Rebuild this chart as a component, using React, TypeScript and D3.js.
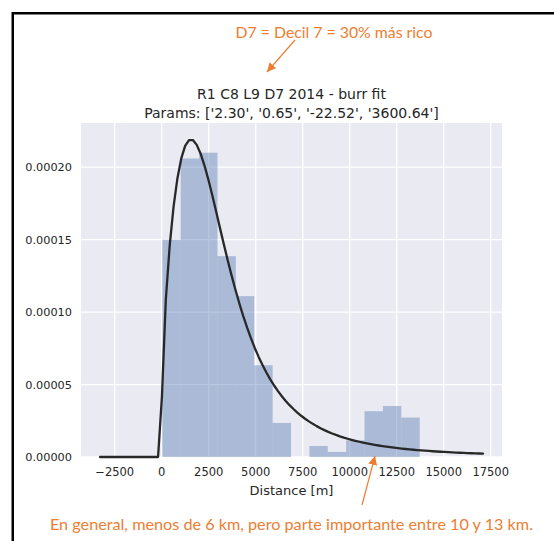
import React from 'react';
import * as d3 from 'd3';

// Histogram (density)
const binEdges = [32, 1010, 1988, 2966, 3944, 4922, 5900, 6878, 7856, 8834, 9812, 10790, 11768, 12746, 13724];
const binDensity = [0.000150, 0.000206, 0.000210, 0.0001386, 0.000111, 0.0000633, 0.0000235, 0, 0.0000076, 0.0000035, 0.0000115, 0.0000316, 0.0000352, 0.0000272];

// Burr fit parameters (from the title): c, d, loc, scale
const burrParams = [2.30, 0.65, -22.52, 3600.64];
const curveRange = [-3280, 17090];
const curveSamples = 100;

const xTicks = [-2500, 0, 2500, 5000, 7500, 10000, 12500, 15000, 17500];
const xTickLabels = ['\u22122500', '0', '2500', '5000', '7500', '10000', '12500', '15000', '17500'];
const yTicks = [0, 0.00005, 0.0001, 0.00015, 0.0002];
const yTickLabels = ['0.00000', '0.00005', '0.00010', '0.00015', '0.00020'];

const titleLines = ['R1 C8 L9 D7 2014 - burr fit', "Params: ['2.30', '0.65', '-22.52', '3600.64']"];
const xLabel = 'Distance [m]';
const topNote = 'D7 = Decil 7 = 30% más rico';
const bottomNote = 'En general, menos de 6 km, pero parte importante entre 10 y 13 km.';

function burrPdf(t: number): number {
  const [c, d, loc, scale] = burrParams;
  const x = (t - loc) / scale;
  if (x <= 0) return 0;
  const lf = Math.log(c * d) + (-c - 1) * Math.log(x) - (d + 1) * Math.log(1 + Math.pow(x, -c));
  return Math.exp(lf) / scale;
}

export default function App() {
  const W = 554, H = 541;
  const left = 81, right = 502, top = 123, bottom = 457;
  const x = d3.scaleLinear().domain([-4293, 18101]).range([left, right]);
  const y = d3.scaleLinear().domain([0, 0.0002305]).range([bottom, top]);

  const grid = d3.range(curveSamples).map(i => curveRange[0] + (curveRange[1] - curveRange[0]) * i / (curveSamples - 1));
  const line = d3.line<number>().x(t => x(t)).y(t => y(burrPdf(t)));
  const curvePath = line(grid) || '';

  const textCol = '#262626';
  const orange = '#ED7D31';
  const font = 'DejaVu Sans, sans-serif';
  const cx = (left + right) / 2;

  return (
    <svg width={W} height={H} style={{ position: 'absolute', left: 0, top: 0, background: '#fff' }}>
      <defs>
        <marker id="ah" viewBox="0 0 10 10" refX="10" refY="5" markerWidth="9" markerHeight="9" markerUnits="userSpaceOnUse" orient="auto">
          <path d="M0,0 L10,5 L0,10 z" fill={orange} />
        </marker>
      </defs>
      <rect x={0} y={0} width={W} height={H} fill="#fff" />
      {/* frame */}
      <rect x={12} y={12} width={W - 12} height={2.5} fill="#000" />
      <rect x={11.5} y={12} width={2.5} height={H - 12} fill="#000" />

      {/* axes background */}
      <rect x={left} y={top} width={right - left} height={bottom - top} fill="#EAEAF2" />
      {xTicks.map(t => (
        <line key={'gx' + t} x1={x(t)} x2={x(t)} y1={top} y2={bottom} stroke="#fff" strokeWidth={1.3} />
      ))}
      {yTicks.map(t => (
        <line key={'gy' + t} x1={left} x2={right} y1={y(t)} y2={y(t)} stroke="#fff" strokeWidth={1.3} />
      ))}

      {/* histogram */}
      {binDensity.map((v, i) => v > 0 ? (
        <rect key={'b' + i} x={x(binEdges[i])} y={y(v)} width={x(binEdges[i + 1]) - x(binEdges[i])} height={y(0) - y(v)} fill="#4C72B0" fillOpacity={0.4} />
      ) : null)}

      {/* fit curve */}
      <path d={curvePath} fill="none" stroke="#282828" strokeWidth={2.3} strokeLinejoin="round" strokeLinecap="round" />

      {/* tick labels */}
      {xTicks.map((t, i) => (
        <text key={'xt' + t} x={x(t)} y={476} textAnchor="middle" fontFamily={font} fontSize={11.5} fill={textCol}>{xTickLabels[i]}</text>
      ))}
      {yTicks.map((t, i) => (
        <text key={'yt' + t} x={72} y={y(t) + 4} textAnchor="end" fontFamily={font} fontSize={11.3} fill={textCol}>{yTickLabels[i]}</text>
      ))}
      <text x={cx} y={495} textAnchor="middle" fontFamily={font} fontSize={13} fill={textCol}>{xLabel}</text>

      {/* title */}
      <text x={cx} y={99} textAnchor="middle" fontFamily={font} fontSize={14} fill={textCol}>{titleLines[0]}</text>
      <text x={cx} y={118} textAnchor="middle" fontFamily={font} fontSize={14} fill={textCol}>{titleLines[1]}</text>

      {/* annotations */}
      <text x={334} y={38} textAnchor="middle" fontFamily="Lato, sans-serif" fontSize={15.8} fill={orange}>{topNote}</text>
      <line x1={295} y1={40} x2={267} y2={72} stroke={orange} strokeWidth={1.2} markerEnd="url(#ah)" />
      <text x={291.5} y={530} textAnchor="middle" fontFamily="Lato, sans-serif" fontSize={16.2} fill={orange}>{bottomNote}</text>
      <line x1={362} y1={505} x2={375} y2={456} stroke={orange} strokeWidth={1.2} markerEnd="url(#ah)" />
    </svg>
  );
}
